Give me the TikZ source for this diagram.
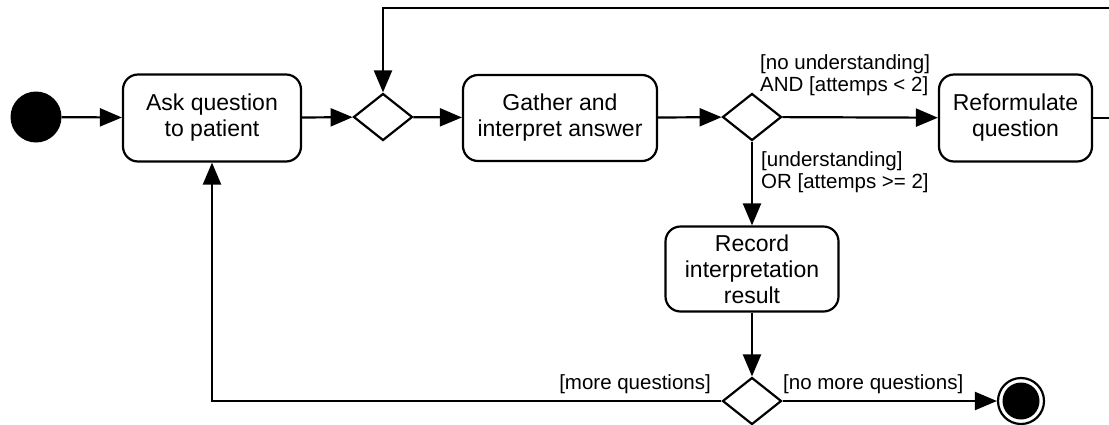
\documentclass[tikz,border=0pt]{standalone}
\usepackage{fontspec}
\setmainfont{Liberation Sans}
\usetikzlibrary{arrows.meta,shapes.geometric}
\begin{document}
\begin{tikzpicture}[x=1pt,y=-1pt,
  act/.style={draw, line width=2.2pt, rounded corners=15pt, align=center,
    inner sep=0pt, font=\fontsize{23}{26}\selectfont},
  dec/.style={draw, diamond, line width=2.2pt, inner sep=0pt,
    minimum width=59pt, minimum height=47pt},
  flow/.style={line width=2.2pt, -{Triangle[length=22pt,width=18pt]}},
  guard/.style={inner sep=0pt, align=left, font=\fontsize{20.5}{22}\selectfont}]
\useasboundingbox (0,0) rectangle (1109,424);
\clip (0,0) rectangle (1109,424);
% nodes
\node[circle, fill, minimum size=51pt, inner sep=0pt] (start) at (36,117) {};
\node[act, minimum width=178pt, minimum height=87pt] (ask) at (212,118) {Ask question\\to patient};
\node[dec] (d1) at (383,117) {};
\node[act, minimum width=194pt, minimum height=86pt] (gather) at (560,118) {Gather and\\interpret answer};
\node[dec] (d2) at (752,117) {};
\node[act, minimum width=153pt, minimum height=87pt] (reform) at (1015.5,118) {Reformulate\\question};
\node[act, minimum width=173pt, minimum height=85pt] (record) at (752,269) {Record\\interpretation\\result};
\node[dec] (d3) at (752,401) {};
\node[circle, draw, line width=2.2pt, minimum size=46pt, inner sep=0pt] (end) at (1021,401) {};
\node[circle, fill, minimum size=37pt, inner sep=0pt] (endin) at (end) {};
\coordinate (c1) at (1125,118);
\coordinate (c2) at (1125,8);
% labels
\node[guard, anchor=south west] (g1) at (760,96) {[no understanding]\\AND [attemps < 2]};
\node[guard, anchor=south west] (g2) at (761,193) {[understanding]\\OR [attemps >= 2]};
\node[guard, anchor=base east] (g3) at (711,389) {[more questions]};
\node[guard, anchor=base west] (g4) at (783,389) {[no more questions]};
% connectors
\draw[flow] (start) -- (ask);
\draw[flow] (ask) -- (d1);
\draw[flow] (d1) -- (gather);
\draw[flow] (gather) -- (d2);
\draw[flow] (d2) -- (reform);
\draw[flow] (d2) -- (record);
\draw[flow] (record) -- (d3);
\draw[flow] (d3) -- (end);
\draw[flow] (d3.west) -| (ask.south);
\draw[flow] (reform.east) -- (c1) -- (c2) -| (d1.north);
\end{tikzpicture}
\end{document}
